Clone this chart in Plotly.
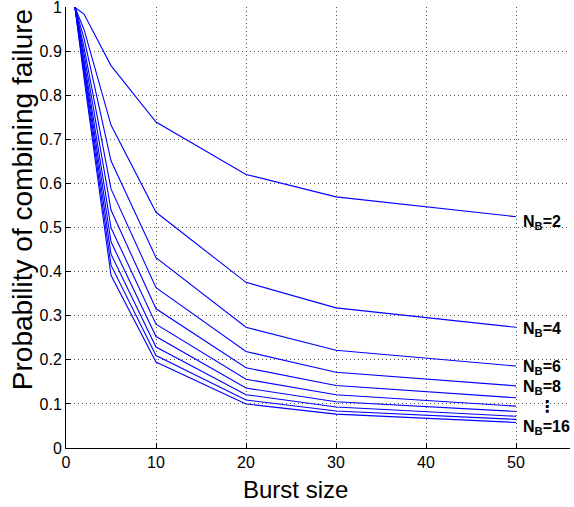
import plotly.graph_objects as go

burst_size = [1, 2, 5, 10, 20, 30, 50]

curve_names = ["N_B=2", "N_B=4", "N_B=6", "N_B=8", "curve 5", "curve 6",
               "curve 7", "curve 8", "curve 9", "N_B=16"]
curve_values = [
    [1.0, 0.985, 0.868, 0.740, 0.621, 0.570, 0.525],
    [1.0, 0.950, 0.733, 0.535, 0.376, 0.318, 0.274],
    [1.0, 0.930, 0.652, 0.432, 0.274, 0.222, 0.186],
    [1.0, 0.910, 0.588, 0.364, 0.219, 0.172, 0.141],
    [1.0, 0.895, 0.540, 0.316, 0.182, 0.142, 0.114],
    [1.0, 0.880, 0.500, 0.281, 0.156, 0.121, 0.095],
    [1.0, 0.870, 0.468, 0.253, 0.136, 0.105, 0.083],
    [1.0, 0.860, 0.440, 0.229, 0.121, 0.093, 0.072],
    [1.0, 0.850, 0.415, 0.210, 0.109, 0.084, 0.065],
    [1.0, 0.840, 0.392, 0.195, 0.100, 0.077, 0.058],
]

label_texts = ["<b>N<sub>B</sub>=2</b>", "<b>N<sub>B</sub>=4</b>", "<b>N<sub>B</sub>=6</b>",
               "<b>N<sub>B</sub>=8</b>", "<b>N<sub>B</sub>=16</b>"]
label_x = [50.6, 50.6, 50.6, 50.6, 50.6]
label_y = [0.512, 0.268, 0.182, 0.137, 0.046]

x_title = "Burst size"
y_title = "Probability of combining failure"

x_ticks = [0, 10, 20, 30, 40, 50]
y_ticks = [0, 0.1, 0.2, 0.3, 0.4, 0.5, 0.6, 0.7, 0.8, 0.9, 1]
y_tick_text = ["0", "0.1", "0.2", "0.3", "0.4", "0.5", "0.6", "0.7", "0.8", "0.9", "1"]

fig = go.Figure()
for name, vals in zip(curve_names, curve_values):
    fig.add_trace(go.Scatter(x=burst_size, y=vals, mode="lines", name=name,
                             line=dict(color="#0000ff", width=1.1), showlegend=False,
                             cliponaxis=False))

font_family = "Liberation Sans, Arial, Helvetica, sans-serif"
for t, lx, ly in zip(label_texts, label_x, label_y):
    fig.add_annotation(x=lx, y=ly, text=t, showarrow=False, xanchor="left", yanchor="middle",
                       font=dict(size=16, color="black", family=font_family))
fig.add_annotation(x=53.4, y=0.095, text="<b>⋮</b>", showarrow=False, xanchor="center",
                   yanchor="middle", font=dict(size=16, color="black", family="DejaVu Sans"))

# axis titles as annotations (positioned like the reference)
fig.add_annotation(xref="paper", yref="paper", x=0.456, y=-0.093, text=x_title,
                   showarrow=False, xanchor="center", yanchor="middle",
                   font=dict(size=24, color="black", family=font_family))
fig.add_annotation(xref="paper", yref="paper", x=-0.0873, y=0.562, text=y_title,
                   textangle=-90, showarrow=False, xanchor="center", yanchor="middle",
                   font=dict(size=28, color="black", family=font_family))

axis_common = dict(showline=True, linecolor="black", linewidth=1, ticks="inside", ticklen=5,
                   tickcolor="black", showgrid=True, gridcolor="#555555",
                   griddash="1px,3px", gridwidth=1, zeroline=False, mirror=False,
                   automargin=False, ticklabeloverflow="allow", layer="above traces",
                   tickfont=dict(size=16, color="black", family=font_family))

fig.update_xaxes(range=[0, 56], tickvals=x_ticks, **axis_common)
fig.update_yaxes(range=[0, 1.001], tickvals=y_ticks, ticktext=y_tick_text, **axis_common)

fig.update_layout(width=574, height=507, margin=dict(l=66, r=4, t=7, b=59),
                  plot_bgcolor="rgba(0,0,0,0)", paper_bgcolor="white")

fig.write_html("out.html", config={"displayModeBar": False},
               post_script="document.body.style.margin='0';")
